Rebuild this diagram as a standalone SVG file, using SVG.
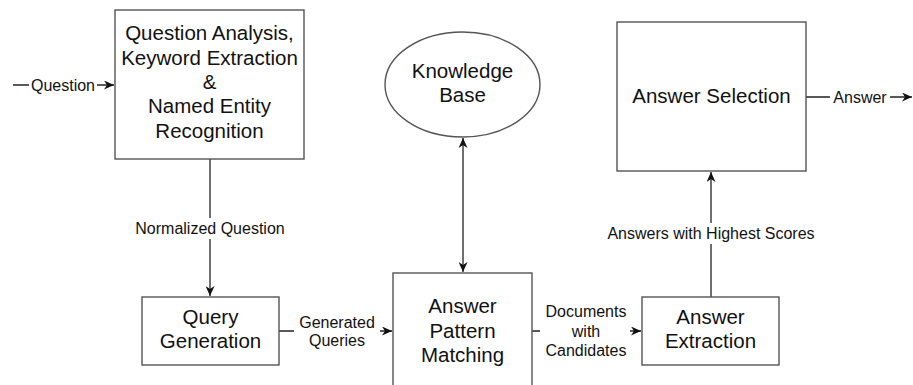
<svg xmlns="http://www.w3.org/2000/svg" width="913" height="385" viewBox="0 0 913 385">
<style>
.box{fill:#fff;stroke:#555;stroke-width:1.4}
.t{font-family:"Liberation Sans",Arial,sans-serif;font-size:20.5px;fill:#111;text-anchor:middle}
.l{font-family:"Liberation Sans",Arial,sans-serif;font-size:16px;fill:#111;text-anchor:middle}
.c{fill:none;stroke:#222;stroke-width:1.3}
.bg{fill:#fff;stroke:none}
</style>
<defs>
<marker id="arr" markerUnits="userSpaceOnUse" markerWidth="11" markerHeight="9" refX="10" refY="4.5" orient="auto">
<path d="M0,0 L10,4.5 L0,9 L3,4.5 Z" fill="#111"/>
</marker>
<marker id="arrs" markerUnits="userSpaceOnUse" markerWidth="11" markerHeight="9" refX="10" refY="4.5" orient="auto-start-reverse">
<path d="M0,0 L10,4.5 L0,9 L3,4.5 Z" fill="#111"/>
</marker>
</defs>
<rect width="913" height="385" fill="#fff"/>
<g id="connectors">
<path class="c" d="M13,85 L114,85" marker-end="url(#arr)"/>
<rect class="bg" x="29" y="75" width="68" height="20"/>
<text class="l" x="63" y="90.5">Question</text>
<path class="c" d="M210,159 L210,296" marker-end="url(#arr)"/>
<rect class="bg" x="131" y="218" width="158" height="21"/>
<text class="l" x="210" y="233.5">Normalized Question</text>
<path class="c" d="M279,331 L392,331" marker-end="url(#arr)"/>
<rect class="bg" x="294" y="313" width="86" height="38"/>
<text class="l" x="337" y="327.5">Generated</text>
<text class="l" x="337" y="346">Queries</text>
<path class="c" d="M463,138 L463,272" marker-start="url(#arrs)" marker-end="url(#arr)"/>
<path class="c" d="M532,331 L641,331" marker-end="url(#arr)"/>
<rect class="bg" x="540" y="302" width="90" height="58"/>
<text class="l" x="586" y="317">Documents</text>
<text class="l" x="586" y="336.5">with</text>
<text class="l" x="586" y="356">Candidates</text>
<path class="c" d="M711,297 L711,172" marker-end="url(#arr)"/>
<rect class="bg" x="601" y="223" width="220" height="21"/>
<text class="l" x="711" y="238.5">Answers with Highest Scores</text>
<path class="c" d="M806,97 L912,97" marker-end="url(#arr)"/>
<rect class="bg" x="830" y="87" width="60" height="20"/>
<text class="l" x="860" y="102.5">Answer</text>
</g>
<g id="question-analysis">
<rect class="box" x="115" y="10" width="189" height="149"/>
<text class="t" x="209.5" y="40">Question Analysis,</text>
<text class="t" x="209.5" y="64.5">Keyword Extraction</text>
<text class="t" x="209.5" y="89">&amp;</text>
<text class="t" x="209.5" y="113">Named Entity</text>
<text class="t" x="209.5" y="137.5">Recognition</text>
</g>
<g id="query-generation">
<rect class="box" x="142" y="297" width="137" height="68"/>
<text class="t" x="210.5" y="324">Query</text>
<text class="t" x="210.5" y="348">Generation</text>
</g>
<g id="knowledge-base">
<ellipse class="box" cx="462.5" cy="84.5" rx="77.5" ry="52.5"/>
<text class="t" x="462.5" y="78">Knowledge</text>
<text class="t" x="462.5" y="102">Base</text>
</g>
<g id="answer-pattern-matching">
<rect class="box" x="393" y="273" width="139" height="125"/>
<text class="t" x="462.5" y="313">Answer</text>
<text class="t" x="462.5" y="337.5">Pattern</text>
<text class="t" x="462.5" y="362">Matching</text>
</g>
<g id="answer-extraction">
<rect class="box" x="642" y="297" width="137" height="68"/>
<text class="t" x="710.5" y="324">Answer</text>
<text class="t" x="710.5" y="348">Extraction</text>
</g>
<g id="answer-selection">
<rect class="box" x="617" y="22" width="189" height="149"/>
<text class="t" x="711.5" y="102.5">Answer Selection</text>
</g>
</svg>
